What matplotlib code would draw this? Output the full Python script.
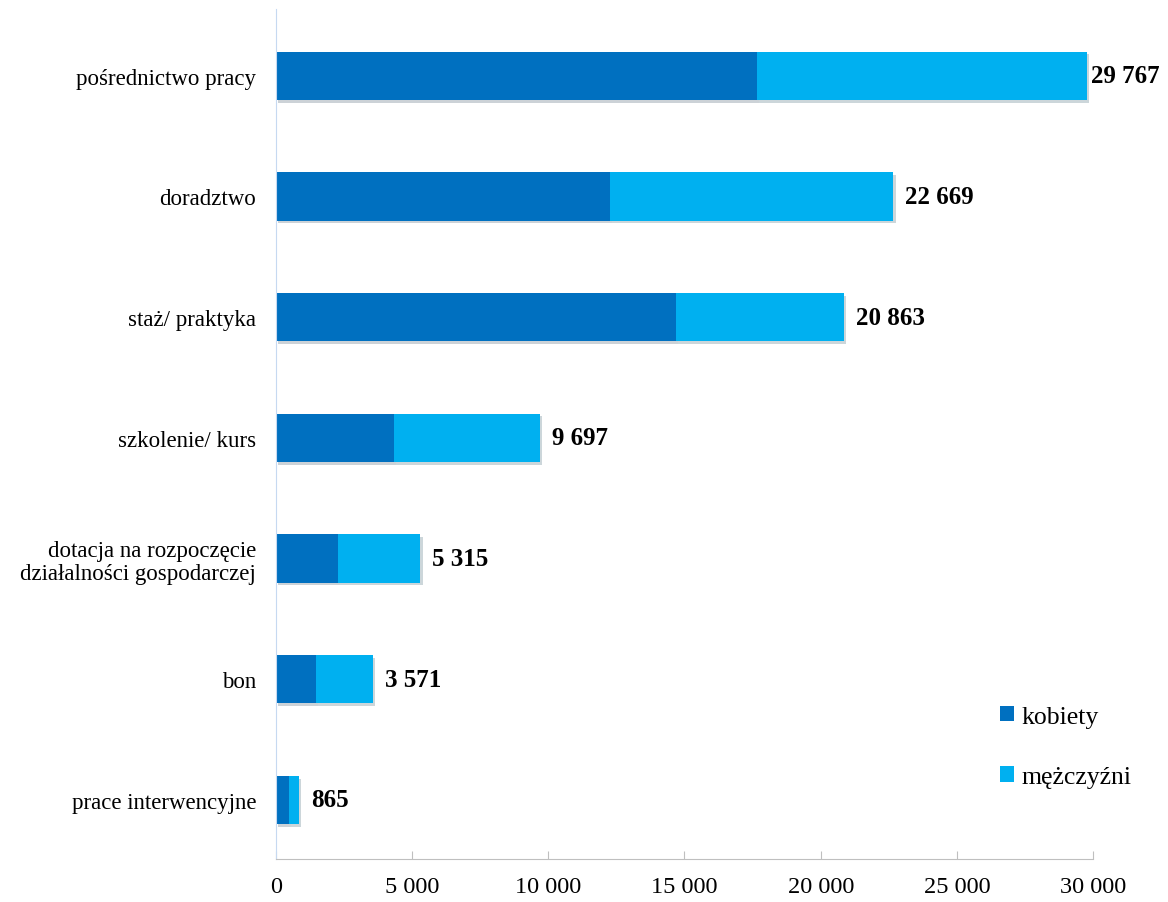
import matplotlib.pyplot as plt
import matplotlib.patheffects as pe

# Data (bottom to top)
categories = ["prace interwencyjne", "bon",
              "dotacja na rozpoczęcie\ndziałalności gospodarczej",
              "szkolenie/ kurs", "staż/ praktyka", "doradztwo",
              "pośrednictwo pracy"]
totals = [865, 3571, 5315, 9697, 20863, 22669, 29767]
kobiety = [480, 1470, 2280, 4330, 14690, 12270, 17660]
mezczyzni = [t - k for t, k in zip(totals, kobiety)]
xticks = [0, 5000, 10000, 15000, 20000, 25000, 30000]
xticklabels = ["0", "5 000", "10 000", "15 000", "20 000", "25 000", "30 000"]

plt.rcParams['font.family'] = ['Liberation Serif', 'DejaVu Serif']

fig = plt.figure(figsize=(11.68, 9.03), dpi=100)
ax = fig.add_axes([0.236, 0.0476, 0.7, 0.941])

shadow = [pe.SimplePatchShadow(offset=(1.5, -2), alpha=0.2), pe.Normal()]
y = range(len(categories))
b1 = ax.barh(y, kobiety, height=0.4, color='#0070C0', label='kobiety')
b2 = ax.barh(y, mezczyzni, left=kobiety, height=0.4, color='#00B0F0', label='mężczyźni')
for b in list(b1) + list(b2):
    b.set_path_effects(shadow)

# value labels, squeezed near the right edge like the original
for i, t in enumerate(totals):
    ax.text(min(t + 430, 29920), i, f"{t:,}".replace(",", " "), va='center',
            ha='left', fontsize=18, fontweight='bold')

ax.set_yticks(list(y))
ax.set_yticklabels(categories, fontsize=16.5, linespacing=1.1)
ax.set_xticks(xticks)
ax.set_xticklabels(xticklabels, fontsize=17.5)
ax.set_xlim(0, 30000)
ax.set_ylim(-0.49, 6.55)

for s in ['top', 'right']:
    ax.spines[s].set_visible(False)
ax.spines['left'].set_color('#C6D9F1')
ax.spines['bottom'].set_color('#BFBFBF')
ax.tick_params(axis='y', length=0, pad=14)
ax.tick_params(axis='x', direction='in', length=6, color='#BFBFBF', pad=12)

leg = ax.legend(loc='lower right', bbox_to_anchor=(1.075, 0.056), frameon=False,
                fontsize=18.5, handlelength=0.55, handleheight=0.55, labelspacing=1.5,
                handletextpad=0.3)
for h in leg.legend_handles:
    h.set_path_effects([])

fig.savefig('out.png', dpi=100)
